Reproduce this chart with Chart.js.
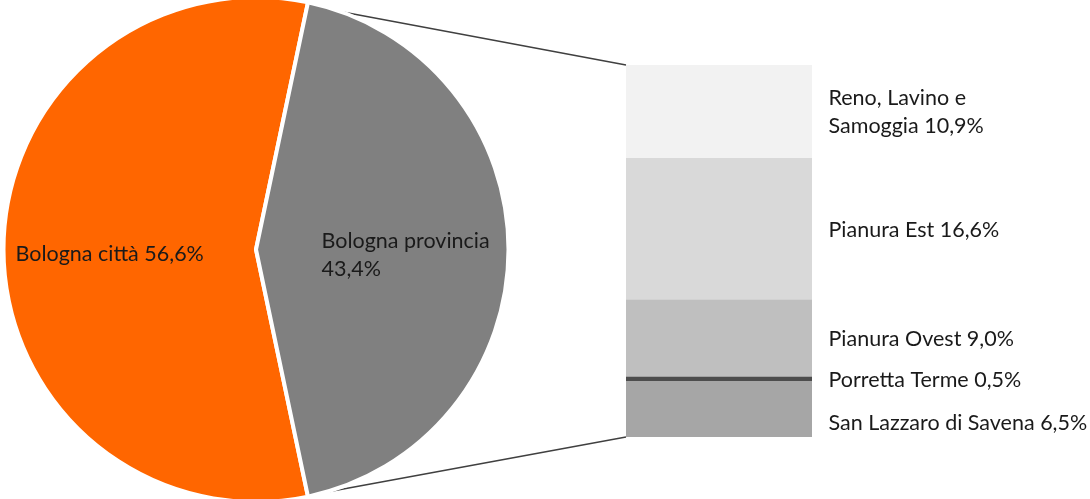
<!DOCTYPE html>
<html><head><meta charset="utf-8">
<script src="https://cdn.jsdelivr.net/npm/chart.js@4.4.1/dist/chart.umd.min.js"></script>
<style>
html,body{margin:0;padding:0;background:#fff;overflow:hidden}
#wrap{position:relative;width:1090px;height:499px;overflow:hidden}
#bar{position:absolute;left:0;top:0}
#pie{position:absolute;left:-4px;top:-5px}
</style></head><body>
<div id="wrap"><canvas id="bar" width="1090" height="499"></canvas><canvas id="pie" width="520" height="509"></canvas></div>
<script>
const pieLabels = ['Bologna città', 'Bologna provincia'];
const pieValues = [56.6, 43.4];
const barLabels = ['Reno, Lavino e\nSamoggia', 'Pianura Est', 'Pianura Ovest', 'Porretta Terme', 'San Lazzaro di Savena'];
const barValues = [10.9, 16.6, 9.0, 0.5, 6.5];

const pieColors = ['#FF6600', '#808080'];
const barColors = ['#F2F2F2', '#D9D9D9', '#BFBFBF', '#4D4D4D', '#A6A6A6'];
const FONT = '21.5px Lato, "Open Sans", sans-serif';
const TXT = '#1a1a1a';
const PIE_OFF = {x: -4, y: -5};

function fmt(v) { return v.toFixed(1).replace('.', ',') + '%'; }

const total = pieValues.reduce((a, b) => a + b, 0);
const grayDeg = pieValues[1] / total * 360;
const orangeDeg = 360 - grayDeg;
const rotation = (90 - grayDeg / 2) - orangeDeg;

const pieLabelPlugin = {
  id: 'pieLabels',
  afterDraw(chart) {
    const ctx = chart.ctx;
    const a = chart.getDatasetMeta(0).data[0];
    ctx.save();
    ctx.font = FONT; ctx.fillStyle = TXT; ctx.textBaseline = 'alphabetic'; ctx.textAlign = 'left';
    const cx = a.x, cy = a.y;
    ctx.fillText(pieLabels[0] + ' ' + fmt(pieValues[0]), cx - 240.5, cy + 11.5);
    ctx.fillText(pieLabels[1], cx + 65.5, cy - 1.5);
    ctx.fillText(fmt(pieValues[1]), cx + 65.5, cy + 26.5);
    ctx.restore();
  }
};

const pieChart = new Chart(document.getElementById('pie'), {
  type: 'pie',
  data: { labels: pieLabels, datasets: [{ data: pieValues, backgroundColor: pieColors, borderColor: '#ffffff', borderWidth: 4, borderJoinStyle: 'miter' }] },
  options: {
    responsive: false, animation: false, devicePixelRatio: 1, rotation: rotation,
    layout: { padding: 0 },
    plugins: { legend: { display: false }, tooltip: { enabled: false } }
  },
  plugins: [pieLabelPlugin]
});

const order = barValues.map((v, i) => i).reverse();
const barPlugin = {
  id: 'barDeco',
  afterDraw(chart) {
    const ctx = chart.ctx;
    const n = chart.data.datasets.length;
    const topEl = chart.getDatasetMeta(n - 1).data[0];
    const botEl = chart.getDatasetMeta(0).data[0];
    const left = topEl.x - topEl.width / 2;
    const arc = pieChart.getDatasetMeta(0).data[1];
    const R = arc.outerRadius;
    const p1 = { x: arc.x + R * Math.cos(arc.startAngle) + PIE_OFF.x, y: arc.y + R * Math.sin(arc.startAngle) + PIE_OFF.y };
    const p2 = { x: arc.x + R * Math.cos(arc.endAngle) + PIE_OFF.x, y: arc.y + R * Math.sin(arc.endAngle) + PIE_OFF.y };
    ctx.save();
    ctx.strokeStyle = '#404040'; ctx.lineWidth = 1.5;
    ctx.beginPath(); ctx.moveTo(p1.x, p1.y + 3); ctx.lineTo(left, topEl.y); ctx.stroke();
    ctx.beginPath(); ctx.moveTo(p2.x, p2.y - 1); ctx.lineTo(left, botEl.base); ctx.stroke();
    // labels
    ctx.font = FONT; ctx.fillStyle = TXT; ctx.textBaseline = 'alphabetic'; ctx.textAlign = 'left';
    const dy = [0, 0, 0, 0, 13];
    const tx = topEl.x + topEl.width / 2 + 16.5;
    chart.data.datasets.forEach((ds, di) => {
      const idx = ds.srcIndex;
      const el = chart.getDatasetMeta(di).data[0];
      const mid = (el.y + el.base) / 2;
      const lines = (barLabels[idx] + ' ' + fmt(barValues[idx])).split('\n');
      const lh = 28;
      const start = mid + 7.5 - (lines.length - 1) * lh / 2 + dy[idx];
      lines.forEach((ln, li) => ctx.fillText(ln, tx, start + li * lh));
    });
    ctx.restore();
  }
};

new Chart(document.getElementById('bar'), {
  type: 'bar',
  data: {
    labels: ['provincia'],
    datasets: order.map(i => ({ label: barLabels[i], srcIndex: i, data: [barValues[i]], backgroundColor: barColors[i], borderWidth: 0, barPercentage: 1, categoryPercentage: 1 }))
  },
  options: {
    responsive: false, animation: false, devicePixelRatio: 1,
    layout: { padding: { left: 626, right: 278, top: 65, bottom: 62 } },
    scales: {
      x: { display: false, stacked: true },
      y: { display: false, stacked: true, min: 0, max: barValues.reduce((a, b) => a + b, 0) }
    },
    plugins: { legend: { display: false }, tooltip: { enabled: false } }
  },
  plugins: [barPlugin]
});
</script>
</body></html>
